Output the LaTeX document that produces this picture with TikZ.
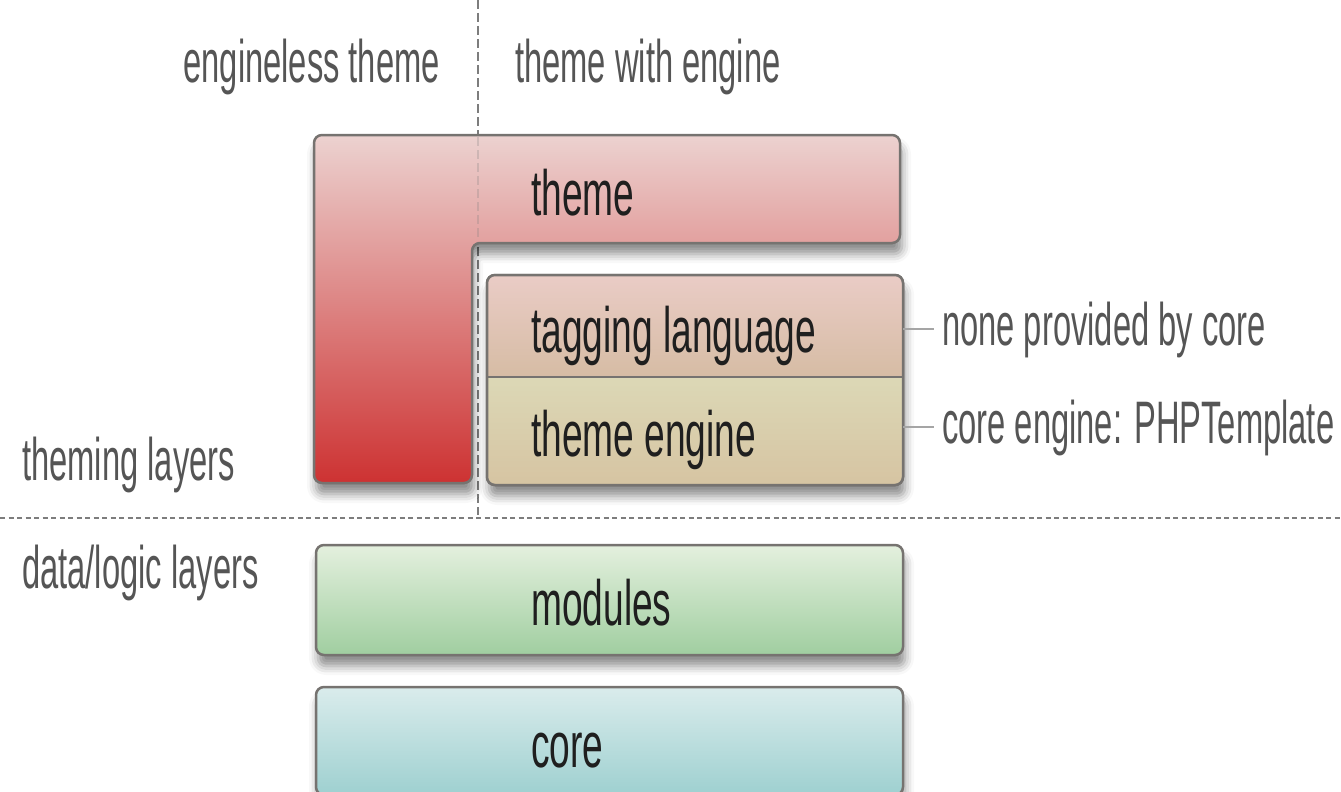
\documentclass[tikz,border=0pt]{standalone}
\usepackage{fontspec}
\setmainfont{Liberation Sans}[FakeStretch=0.58]
\newfontfamily\lblfont{Liberation Sans}[FakeStretch=0.545]
\usetikzlibrary{shadows.blur}
\definecolor{bordc}{RGB}{118,115,112}
\definecolor{lblgray}{RGB}{85,85,85}
\definecolor{sepgray}{RGB}{125,125,125}
\definecolor{conngray}{RGB}{165,165,165}
\definecolor{themetop}{RGB}{236,210,208}
\definecolor{themebot}{RGB}{205,50,50}
\definecolor{tagtop}{RGB}{234,204,198}
\definecolor{tagbot}{RGB}{214,188,164}
\definecolor{engtop}{RGB}{220,216,182}
\definecolor{engbot}{RGB}{214,196,162}
\definecolor{modtop}{RGB}{228,240,222}
\definecolor{modbot}{RGB}{160,206,160}
\definecolor{coretop}{RGB}{218,236,236}
\definecolor{corebot}{RGB}{158,208,208}
\begin{document}
\begin{tikzpicture}[x=1pt,y=-1pt,
  boxshadow/.style={blur shadow={shadow xshift=2pt, shadow yshift=-11pt, shadow blur radius=9pt, shadow opacity=45}},
  boxline/.style={draw=bordc, line width=2.5pt, rounded corners=8pt},
  box/.style={boxline, boxshadow, inner sep=0},
  half/.style={inner sep=0, minimum width=416, draw=none},
  maintxt/.style={font=\fontsize{64}{76}\selectfont, text=black!88, inner sep=0, anchor=base west},
  lbl/.style={font=\lblfont\fontsize{60}{70}\selectfont, text=lblgray, inner sep=0},
  sep/.style={draw=sepgray, line width=1.8pt},
  conn/.style={draw=conngray, line width=2pt}
]
\useasboundingbox (0,0) rectangle (1341,792);
\clip (0,0) rectangle (1341,792);

% separators
\draw[sep, dash pattern=on 9pt off 4pt] (478,0) -- (478,515);
\draw[sep, dash pattern=on 5pt off 3.5pt] (0,518) -- (1341,518);

% theme L shape
\path[boxline, boxshadow, top color=themetop, bottom color=themebot]
  (314,135) -- (900,135) -- (900,243) -- (472,243) -- (472,483) -- (314,483) -- cycle;
\draw[sep, opacity=0.25, dash pattern=on 9pt off 4pt] (478,137) -- (478,241);
\node[maintxt] (theme) at (531,215) {theme};

% tagging language / theme engine
\path[boxline, boxshadow, fill=white] (487,275) rectangle (903,485);
\begin{scope}
  \clip[rounded corners=8pt] (487,275) rectangle (903,485);
  \node[half, minimum height=102, top color=tagtop, bottom color=tagbot] (tag) at (695,326) {};
  \node[half, minimum height=108, top color=engtop, bottom color=engbot] (eng) at (695,431) {};
\end{scope}
\path[boxline] (487,275) rectangle (903,485);
\draw[draw=bordc, line width=2.5pt] (tag.south west) -- (tag.south east);
\node[maintxt] (tagt) at (531,352) {tagging language};
\node[maintxt] (engt) at (531,456) {theme engine};

% modules and core
\node[box, top color=modtop, bottom color=modbot, minimum width=587, minimum height=110] (modules) at (609.5,600) {};
\node[maintxt] (modt) at (531,625) {modules};
\node[box, top color=coretop, bottom color=corebot, minimum width=587, minimum height=108] (core) at (609.5,741) {};
\node[maintxt] (coret) at (531,767) {core};

% side labels
\node[lbl, anchor=base west] (none) at (942,345) {none provided by core};
\node[lbl, anchor=base west] (php) at (942,443) {core engine: PHPTemplate};
\draw[conn] (tag.east |- none.west) -- ([xshift=-8pt]none.west);
\draw[conn] (eng.east |- php.west) -- ([xshift=-8pt]php.west);

\node[lbl, anchor=base east] (engless) at (440,82) {engineless theme};
\node[lbl, anchor=base west] (withengine) at (515,82) {theme with engine};
\node[lbl, anchor=base west] (theming) at (22,480) {theming layers};
\node[lbl, anchor=base west] (datalogic) at (22,588) {data/logic layers};
\end{tikzpicture}
\end{document}
